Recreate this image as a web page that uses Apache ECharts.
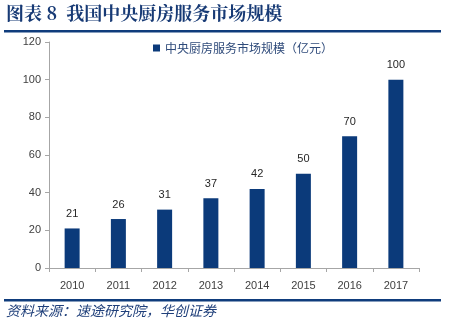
<!DOCTYPE html>
<html><head><meta charset="utf-8">
<script src="https://cdn.jsdelivr.net/npm/echarts@6/dist/echarts.min.js"></script>
<style>html,body{margin:0;padding:0;background:#fff;}#c{width:451px;height:329px;}</style>
</head><body><div id="c"></div>
<script>
const titleText = '图表 8  我国中央厨房服务市场规模';
const sourceText = '资料来源：速途研究院，华创证券';
const seriesName = '中央厨房服务市场规模（亿元）';
const categories = ['2010','2011','2012','2013','2014','2015','2016','2017'];
const values = [21, 26, 31, 37, 42, 50, 70, 100];
const yTicks = {min: 0, max: 120, interval: 20};

const chart = echarts.init(document.getElementById('c'), null, {renderer: 'canvas'});
const navy = '#0B3A7A';
chart.setOption({
  animation: false,
  graphic: [
    {type: 'text', left: 6, top: 4, style: {text: titleText, font: 'bold 18px "Noto Serif CJK SC", "Noto Sans CJK SC", serif', fill: '#173A75'}},
    {type: 'rect', shape: {x: 4, y: 30, width: 437, height: 2.5}, style: {fill: '#0F3C7C'}},
    {type: 'rect', shape: {x: 4, y: 299, width: 437, height: 2.5}, style: {fill: '#0F3C7C'}},
    {type: 'text', left: 6, top: 304, style: {text: sourceText, font: 'italic 14px "Noto Sans CJK SC", sans-serif', fill: '#1F3F7A'}}
  ],
  legend: {
    top: 37, left: 148, itemWidth: 7, itemHeight: 7, icon: 'rect', itemGap: 4,
    textStyle: {fontSize: 12, color: '#2E4A7A', fontFamily: '"Noto Sans CJK SC", sans-serif'},
    data: [seriesName]
  },
  grid: {left: 49, top: 42, width: 370, height: 226, containLabel: false},
  xAxis: {
    type: 'category', data: categories, boundaryGap: true,
    axisLine: {lineStyle: {color: '#A6A6A6'}},
    axisTick: {show: true, length: 4, lineStyle: {color: '#A6A6A6'}},
    axisLabel: {color: '#404040', fontSize: 11, margin: 12, fontFamily: 'Arial, "Liberation Sans", sans-serif'}
  },
  yAxis: {
    type: 'value', min: yTicks.min, max: yTicks.max, interval: yTicks.interval,
    axisLine: {show: true, lineStyle: {color: '#A6A6A6'}},
    axisTick: {show: true, length: 4, lineStyle: {color: '#A6A6A6'}},
    splitLine: {show: false},
    axisLabel: {color: '#404040', fontSize: 11, margin: 8, fontFamily: 'Arial, "Liberation Sans", sans-serif'}
  },
  series: [{
    name: seriesName, type: 'bar', data: values, barWidth: 15,
    itemStyle: {color: navy},
    label: {show: true, position: 'top', distance: 9, color: '#262626', fontSize: 11, fontFamily: 'Arial, "Liberation Sans", sans-serif'}
  }]
});
</script></body></html>
